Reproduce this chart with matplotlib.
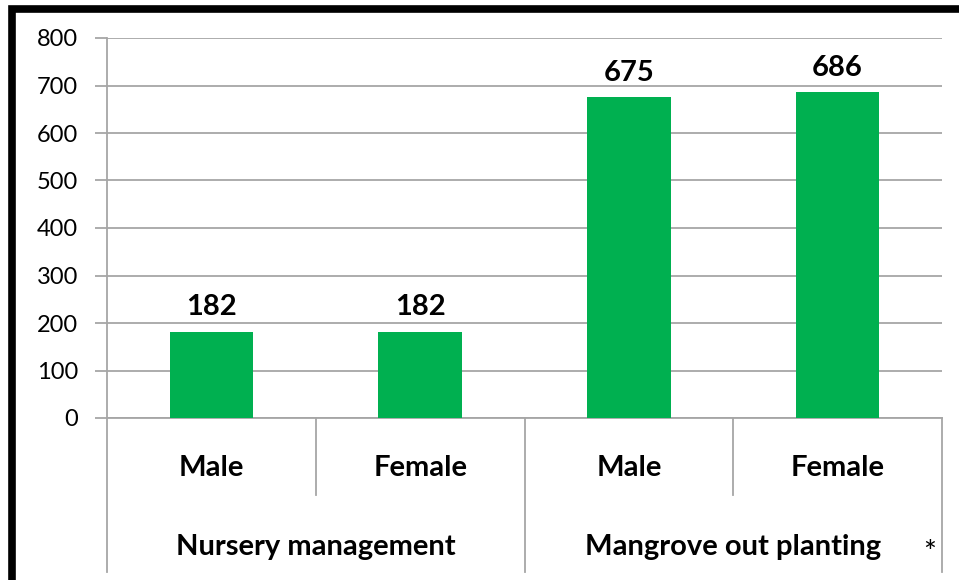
import matplotlib
matplotlib.use("Agg")
import matplotlib.pyplot as plt
from matplotlib.patches import Rectangle
from matplotlib.lines import Line2D

groups = ["Nursery management", "Mangrove out planting"]
sexes = ["Male", "Female", "Male", "Female"]
values = [182, 182, 675, 686]
yticks = [0, 100, 200, 300, 400, 500, 600, 700, 800]

W, H = 959, 580
fig = plt.figure(figsize=(W / 100, H / 100), dpi=100)
plt.rcParams['font.family'] = ['Lato', 'DejaVu Sans']

L, R, T, B = 107, 942, 38, 418
ax = fig.add_axes([L / W, (H - B) / H, (R - L) / W, (B - T) / H])

green = "#00B050"
grid = "#A6A6A6"
x = list(range(len(values)))
bars = ax.bar(x, values, width=0.4, color=green, zorder=3)
for xi, v in zip(x, values):
    ax.annotate(str(v), (xi, v), xytext=(0, 8), textcoords="offset points",
                ha="center", va="bottom", fontsize=21, fontweight="bold", color="black")

ax.set_xlim(-0.5, 3.5)
ax.set_ylim(0, 800)
ax.set_yticks(yticks)
ax.set_yticklabels([str(t) for t in yticks], fontsize=17)
ax.yaxis.grid(True, color=grid, linewidth=1.3, zorder=0)
ax.tick_params(axis="y", length=9, color=grid, width=1.3, pad=12)
ax.set_xticks([])
for s in ["top", "right"]:
    ax.spines[s].set_visible(False)
for s in ["left", "bottom"]:
    ax.spines[s].set_color(grid)
    ax.spines[s].set_linewidth(1.3)

ph = B - T
def yax(py):
    return (B - py) / ph

trans = ax.get_xaxis_transform()
for xs in [0.5, 2.5]:
    ax.add_line(Line2D([xs, xs], [0, yax(495)], transform=trans, color=grid, lw=1.3, clip_on=False))
for xs in [-0.5, 1.5, 3.5]:
    ax.add_line(Line2D([xs, xs], [0, yax(572)], transform=trans, color=grid, lw=1.3, clip_on=False))

for xi, s in zip(x, sexes):
    ax.text(xi, yax(468), s, transform=trans, ha="center", va="center",
            fontsize=21, fontweight="bold")
for gi, g in enumerate(groups):
    ax.text(gi * 2 + 0.5, yax(547), g, transform=trans, ha="center", va="center",
            fontsize=21, fontweight="bold")
ax.text(3.44, yax(553), "*", transform=trans, ha="center", va="center", fontsize=22)

fig.patches.append(Rectangle((11.5 / W, -0.05), 1.1, (H - 8.5) / H + 0.05,
                             transform=fig.transFigure, fill=False,
                             edgecolor="black", linewidth=5.5))

fig.savefig("out.png", dpi=100)
